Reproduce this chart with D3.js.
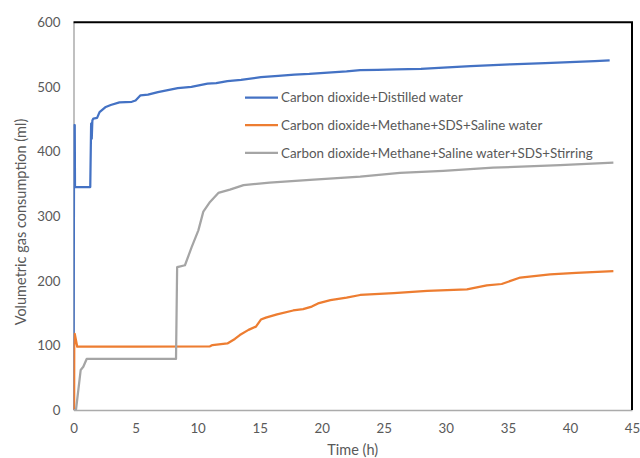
<!DOCTYPE html>
<html>
<head>
<meta charset="utf-8">
<script src="https://cdn.jsdelivr.net/npm/d3@7"></script>
<style>
  html, body { margin: 0; padding: 0; background: #fff; }
  svg { display: block; font-family: Lato, "Liberation Sans", sans-serif; }
</style>
</head>
<body>
<svg id="chart" width="640" height="458"></svg>
<script>
// Gas consumption over time for three hydrate-formation runs
const xTicks = [0, 5, 10, 15, 20, 25, 30, 35, 40, 45];
const yTicks = [0, 100, 200, 300, 400, 500, 600];

const seriesNames = [
  "Carbon dioxide+Distilled water",
  "Carbon dioxide+Methane+SDS+Saline water",
  "Carbon dioxide+Methane+Saline water+SDS+Stirring"
];
const seriesColors = ["#4472C4", "#ED7D31", "#A5A5A5"];

// Carbon dioxide + distilled water
const co2WaterTime = [0, 0.05, 0.1, 0.12, 1.35, 1.42, 1.47, 1.52, 1.6, 1.9, 2.1, 2.6, 3.0, 3.7, 4.7, 5.0, 5.4, 6.0, 6.8, 8.4, 9.5, 10.8, 11.5, 12.4, 13.5, 15.1, 16.5, 17.8, 19.0, 20.5, 22.0, 23.1, 24.5, 26.0, 28.0, 29.8, 32.0, 35.2, 38.0, 40.5, 42.0, 43.2];
const co2WaterVol  = [0, 441, 441, 345, 345, 443, 420, 448, 451, 452, 461, 469, 472, 476, 477, 479, 487, 488, 492, 498, 500, 505, 506, 509, 511, 515, 517, 519, 520, 522, 524, 526, 526.5, 527, 528, 530, 532, 535, 537, 538.6, 540, 541];

// Carbon dioxide + methane + SDS + saline water
const sdsSalineTime = [0.05, 0.06, 0.1, 0.2, 0.3, 5, 11.0, 11.2, 12.4, 13.0, 13.4, 14.1, 14.7, 15.1, 15.5, 16.4, 17.7, 18.5, 19.2, 19.7, 20.7, 22.0, 23.1, 25.8, 28.5, 31.7, 33.3, 34.5, 36.0, 38.4, 40.5, 43.5];
const sdsSalineVol  = [0, 100, 118, 108, 98, 98, 98.5, 100.5, 103, 110, 116, 124, 129, 140, 143, 148, 154, 156, 160, 165, 170, 174, 178, 181, 184.5, 186.6, 193, 195, 205, 210, 212.3, 215];

// Carbon dioxide + methane + saline water + SDS, stirred
const stirredTime = [0, 0.2, 0.58, 0.79, 1.06, 8.26, 8.35, 8.53, 8.98, 9.52, 10.06, 10.46, 11.0, 11.67, 12.6, 13.7, 15.8, 19.06, 23.1, 26.3, 29.8, 33.8, 39.2, 43.5];
const stirredVol  = [0, 0, 62, 67, 79, 79, 221, 222, 224, 252, 278, 307, 322, 336, 341, 348, 352, 356, 361, 367, 370, 375, 379, 383];

const series = [
  { name: seriesNames[0], color: seriesColors[0], t: co2WaterTime, v: co2WaterVol },
  { name: seriesNames[1], color: seriesColors[1], t: sdsSalineTime, v: sdsSalineVol },
  { name: seriesNames[2], color: seriesColors[2], t: stirredTime, v: stirredVol }
];

const svg = d3.select("#chart");
const plotLeft = 73.5, plotRight = 632, plotTop = 22.3, plotBottom = 410;

const x = d3.scaleLinear().domain([0, 45]).range([plotLeft, plotRight]);
const y = d3.scaleLinear().domain([0, 600]).range([plotBottom, plotTop]);

const textColor = "#595959";

// plot area clip
svg.append("defs").append("clipPath").attr("id", "plotClip")
  .append("rect").attr("x", plotLeft).attr("y", plotTop)
  .attr("width", plotRight - plotLeft).attr("height", plotBottom - plotTop);

// axes
const xAxis = svg.append("g").attr("transform", `translate(0,${plotBottom})`)
  .call(d3.axisBottom(x).tickValues(xTicks).tickSize(0).tickPadding(14).tickFormat(d3.format("d")));
const yAxis = svg.append("g").attr("transform", `translate(${plotLeft},0)`)
  .call(d3.axisLeft(y).tickValues(yTicks).tickSize(0).tickPadding(13).tickFormat(d3.format("d")));

[xAxis, yAxis].forEach(g => {
  g.select(".domain").attr("stroke", "#ABABAB").attr("stroke-width", 1.5);
  g.selectAll("text").attr("fill", textColor).attr("font-size", 13.3).attr("font-family", "Lato, sans-serif");
});

// top and right frame edges
svg.append("line").attr("x1", plotLeft).attr("x2", plotRight + 1).attr("y1", plotTop).attr("y2", plotTop)
  .attr("stroke", "#000").attr("stroke-width", 2);
svg.append("line").attr("x1", plotRight).attr("x2", plotRight).attr("y1", plotTop).attr("y2", plotBottom)
  .attr("stroke", "#000").attr("stroke-width", 2);

// data lines
const line = d3.line().x(d => x(d[0])).y(d => y(d[1]));
const plot = svg.append("g").attr("clip-path", "url(#plotClip)");
series.forEach(s => {
  const pts = s.t.map((t, i) => [t, s.v[i]]);
  plot.append("path").datum(pts)
    .attr("d", line)
    .attr("fill", "none")
    .attr("stroke", s.color)
    .attr("stroke-width", 2.25)
    .attr("stroke-linejoin", "round");
});

// legend
const legend = svg.append("g");
series.forEach((s, i) => {
  const ly = 97.5 + i * 27.7;
  legend.append("line").attr("x1", 245).attr("x2", 278).attr("y1", ly).attr("y2", ly)
    .attr("stroke", s.color).attr("stroke-width", 2.25);
  legend.append("text").attr("x", 281).attr("y", ly).attr("dy", "0.35em")
    .attr("fill", textColor).attr("font-size", 13.4).text(s.name);
});

// axis titles
svg.append("text").attr("x", (plotLeft + plotRight) / 2).attr("y", 455)
  .attr("text-anchor", "middle").attr("fill", textColor).attr("font-size", 14.5)
  .text("Time (h)");
svg.append("text")
  .attr("transform", `translate(26,222) rotate(-90)`)
  .attr("text-anchor", "middle").attr("fill", textColor).attr("font-size", 14.5)
  .text("Volumetric gas consumption (ml)");
</script>
</body>
</html>
